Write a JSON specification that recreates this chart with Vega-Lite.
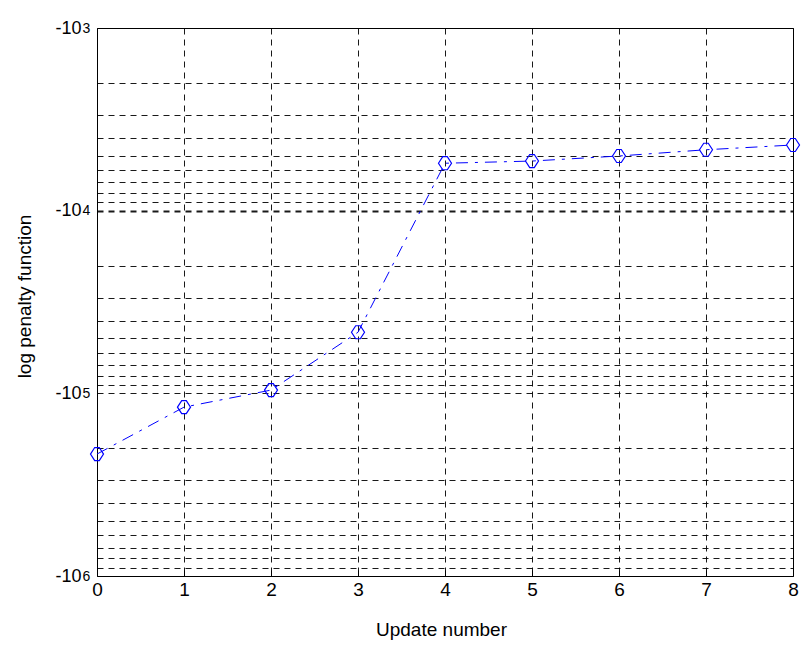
{
  "$schema": "https://vega.github.io/schema/vega-lite/v6.json",
  "width": 696,
  "height": 548,
  "autosize": {"type": "none"},
  "padding": {"left": 97, "top": 28, "right": 8, "bottom": 72},
  "background": "white",
  "config": {
    "font": "Liberation Sans",
    "view": {"stroke": "#000000", "strokeWidth": 1}
  },
  "data": {
    "values": [
      {"update": 0, "penalty": -215000},
      {"update": 1, "penalty": -119000},
      {"update": 2, "penalty": -96000},
      {"update": 3, "penalty": -46300},
      {"update": 4, "penalty": -5500},
      {"update": 5, "penalty": -5350},
      {"update": 6, "penalty": -5020},
      {"update": 7, "penalty": -4640},
      {"update": 8, "penalty": -4370}
    ]
  },
  "resolve": {"axis": {"y": "independent"}, "scale": {"y": "shared"}},
  "layer": [
    {
      "mark": {"type": "line", "color": "#0000ff", "strokeWidth": 1, "strokeDash": [12, 7, 3, 7]},
      "encoding": {
        "x": {
          "field": "update",
          "type": "quantitative",
          "scale": {"domain": [0, 8], "nice": false, "zero": false},
          "axis": {
            "values": [0, 1, 2, 3, 4, 5, 6, 7, 8],
            "format": "d",
            "grid": true,
            "gridColor": "#000000",
            "gridDash": [6, 5],
            "gridOpacity": 0.9,
            "domain": false,
            "ticks": true,
            "tickSize": -6,
            "tickColor": "#000000",
            "labelFontSize": 19,
            "labelColor": "#000000",
            "labelPadding": 10,
            "labelBaseline": "top",
            "labelFlush": false,
            "labelOverlap": false,
            "title": "Update number",
            "titleFontSize": 19,
            "titleFontWeight": "normal",
            "titleColor": "#000000",
            "titleX": 344,
            "titleY": 53,
            "titleAlign": "center",
            "titleBaseline": "middle"
          }
        },
        "y": {
          "field": "penalty",
          "type": "quantitative",
          "scale": {"type": "log", "domain": [-1000000, -1000], "nice": false, "zero": false},
          "axis": {
            "orient": "left",
            "values": [-1000, -2000, -3000, -4000, -5000, -6000, -7000, -8000, -9000,
                       -10000, -20000, -30000, -40000, -50000, -60000, -70000, -80000, -90000,
                       -100000, -200000, -300000, -400000, -500000, -600000, -700000, -800000, -900000,
                       -1000000],
            "labelExpr": "indexof([-1000, -10000, -100000, -1000000], datum.value) >= 0 ? '-10' : ''",
            "grid": true,
            "gridColor": "#000000",
            "gridDash": [6, 5],
            "gridOpacity": 0.9,
            "gridWidth": {"condition": {"test": "datum.value == -10000", "value": 2}, "value": 1},
            "domain": false,
            "ticks": false,
            "labelFontSize": 18,
            "labelColor": "#000000",
            "labelAlign": "right",
            "labelBaseline": "middle",
            "labelPadding": 16,
            "labelOverlap": false,
            "labelBound": false,
            "labelFlush": false,
            "title": "log penalty function",
            "titleFontSize": 19,
            "titleFontWeight": "normal",
            "titleColor": "#000000",
            "titleAngle": -90,
            "titleX": -73,
            "titleY": 268,
            "titleAlign": "center",
            "titleBaseline": "middle"
          }
        }
      }
    },
    {
      "mark": {
        "type": "point",
        "shape": "M-1,0L-0.35,-1L0.35,-1L1,0L0.35,1L-0.35,1Z",
        "size": 170,
        "filled": false,
        "color": "#0000ff",
        "strokeWidth": 1.2,
        "opacity": 1
      },
      "encoding": {
        "x": {"field": "update", "type": "quantitative"},
        "y": {
          "field": "penalty",
          "type": "quantitative",
          "axis": {
            "orient": "left",
            "values": [-1000, -10000, -100000, -1000000],
            "labelExpr": "datum.value == -1000 ? '3' : datum.value == -10000 ? '4' : datum.value == -100000 ? '5' : '6'",
            "grid": false,
            "domain": false,
            "ticks": false,
            "labelFontSize": 14,
            "labelColor": "#000000",
            "labelAlign": "left",
            "labelBaseline": "middle",
            "labelPadding": 15,
            "labelDy": -10,
            "labelOverlap": false,
            "labelBound": false,
            "labelFlush": false,
            "title": null
          }
        }
      }
    }
  ]
}
